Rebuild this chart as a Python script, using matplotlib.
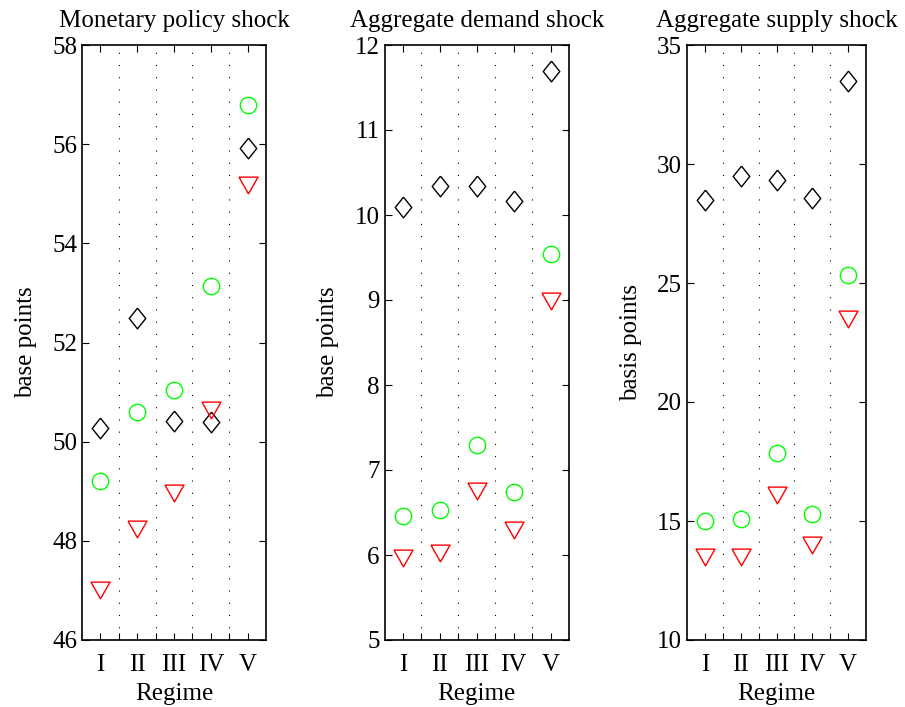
import numpy as np
import matplotlib
matplotlib.use("Agg")
import matplotlib.pyplot as plt
from matplotlib.ticker import FixedLocator, NullFormatter

plt.rcParams['font.family'] = ['Liberation Serif', 'DejaVu Serif']
plt.rcParams['font.size'] = 18

regimes = ['I', 'II', 'III', 'IV', 'V']
x = np.arange(1, 6)

# Monetary policy shock
mp_diamond = [50.27, 52.50, 50.42, 50.40, 55.92]
mp_circle = [49.20, 50.60, 51.04, 53.14, 56.80]
mp_triangle = [47.00, 48.24, 48.96, 50.64, 55.17]

# Aggregate demand shock
ad_diamond = [10.10, 10.34, 10.34, 10.16, 11.69]
ad_circle = [6.46, 6.53, 7.29, 6.74, 9.54]
ad_triangle = [5.97, 6.02, 6.75, 6.30, 8.99]

# Aggregate supply shock
as_diamond = [28.50, 29.48, 29.33, 28.58, 33.50]
as_circle = [14.98, 15.08, 17.84, 15.28, 25.33]
as_triangle = [13.48, 13.50, 16.10, 13.98, 23.50]

titles = ['Monetary policy shock', 'Aggregate demand shock', 'Aggregate supply shock']
ylabels = ['base points', 'base points', 'basis points']
ylims = [(46, 58), (5, 12), (10, 35)]
yticks = [np.arange(46, 59, 2), np.arange(5, 13, 1), np.arange(10, 36, 5)]
series = [
    (mp_diamond, mp_circle, mp_triangle),
    (ad_diamond, ad_circle, ad_triangle),
    (as_diamond, as_circle, as_triangle),
]

# marker shapes like matlab's (diamond a bit taller than wide)
diamond = [(0, 1), (0.8, 0), (0, -1), (-0.8, 0), (0, 1)]
tri_down = [(-1, 0.88), (1, 0.88), (0, -0.88), (-1, 0.88)]

fig = plt.figure(figsize=(9.05, 7.07), dpi=100)
positions = [
    [82 / 905, 67 / 707, 184 / 905, 595 / 707],
    [384.5 / 905, 67 / 707, 184.5 / 905, 595 / 707],
    [687 / 905, 67 / 707, 179 / 905, 595 / 707],
]

for i in range(3):
    ax = fig.add_axes(positions[i])
    d, c, t = series[i]
    ax.plot(x, d, linestyle='none', marker=diamond, markersize=14.9,
            markerfacecolor='none', markeredgecolor='black', markeredgewidth=1.0)
    ax.plot(x, c, linestyle='none', marker='o', markersize=11.8,
            markerfacecolor='none', markeredgecolor=(0, 1, 0), markeredgewidth=1.0)
    ax.plot(x, t, linestyle='none', marker=tri_down, markersize=13.7,
            markerfacecolor='none', markeredgecolor=(1, 0, 0), markeredgewidth=1.0)

    ax.set_xlim(0.5, 5.5)
    ax.set_ylim(*ylims[i])
    ax.set_yticks(yticks[i])
    ax.set_xticks(x)
    ax.set_xticklabels(regimes)
    ax.xaxis.set_minor_locator(FixedLocator([1.5, 2.5, 3.5, 4.5]))
    ax.xaxis.set_minor_formatter(NullFormatter())
    ax.grid(True, which='minor', axis='x', color='black',
            linestyle=(0, (1, 10)), linewidth=0.8)

    ax.tick_params(which='both', direction='in', length=5, width=0.8,
                   top=True, right=True, labelsize=18)
    ax.tick_params(which='minor', top=False)
    ax.tick_params(axis='x', pad=10)
    for sp in ax.spines.values():
        sp.set_linewidth(1.2)

    ax.set_title(titles[i], fontsize=18, pad=13)
    ax.set_xlabel('Regime', fontsize=18, labelpad=5)
    ax.set_ylabel(ylabels[i], fontsize=18, labelpad=11)

plt.savefig('out.png', dpi=100)
